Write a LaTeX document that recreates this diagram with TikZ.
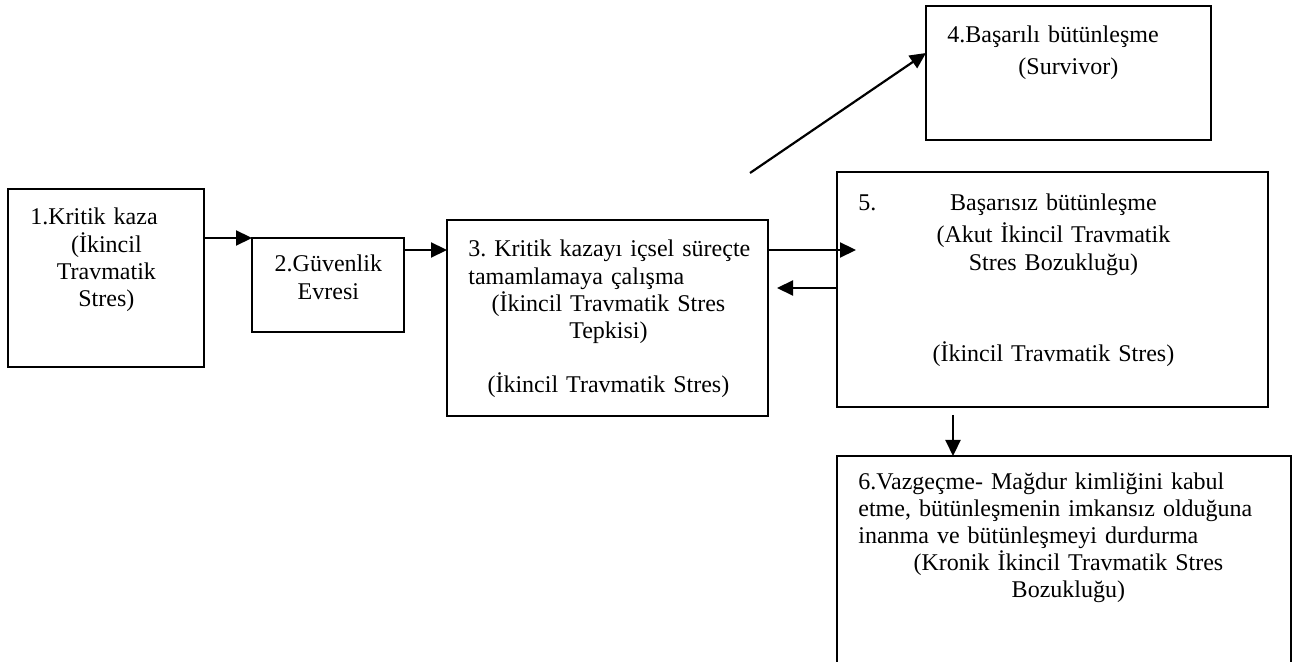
\documentclass[tikz,border=0pt]{standalone}
\usepackage{fontspec}
\setmainfont{Liberation Serif}
\usepackage{tikz}
\usetikzlibrary{positioning, arrows.meta}
\tikzstyle{kutu} = [rectangle, draw=black, line width=1pt, anchor=north west, outer sep=0pt, inner sep=0pt]
\tikzstyle{yazi} = [anchor=base west, inner sep=0pt, align=center, font={\fontsize{12}{13.6}\selectfont\frenchspacing}]
\tikzstyle{ok}   = [-{Triangle[length=8pt, width=7.5pt]}, line width=1.1pt]

\begin{document}
\begin{tikzpicture}[x=0.5pt, y=-0.5pt]
            \useasboundingbox (0,0) rectangle (1301,662);

            \node[kutu, minimum width=98pt,    minimum height=89pt]  (kaza)      at (8,189)   {};
            \node[kutu, minimum width=76pt,    minimum height=47pt]  (guven)     at (252,238) {};
            \node[kutu, minimum width=160.5pt, minimum height=98pt]  (surec)     at (447,220) {};
            \node[kutu, minimum width=142.5pt, minimum height=67pt]  (basarili)  at (926,6)   {};
            \node[kutu, minimum width=215.5pt, minimum height=117.5pt] (basarisiz) at (837,172) {};
            \node[kutu, minimum width=227pt,   minimum height=110pt] (vazgec)    at (837,456) {};

            \node[yazi, text width=76pt]  (kazayazi)  at ([shift={(22,36)}]kaza.north west)
                {\makebox[\linewidth][l]{1.Kritik kaza}\\(İkincil\\Travmatik\\Stres)};
            \node[yazi, text width=60pt]  (guvenyazi) at ([shift={(16,34)}]guven.north west)
                {2.Güvenlik\\Evresi};
            \node[yazi, text width=140pt] (surecyazi) at ([shift={(21,37)}]surec.north west)
                {\makebox[\linewidth][l]{3. Kritik kazayı içsel süreçte}\\
                 \makebox[\linewidth][l]{tamamlamaya çalışma}\\
                 (İkincil Travmatik Stres\\Tepkisi)\\[13.6pt]
                 (İkincil Travmatik Stres)};
            \node[yazi, text width=121pt] (basariliyazi) at ([shift={(21,37)}]basarili.north west)
                {\makebox[\linewidth][l]{4.Başarılı bütünleşme}\\[2.4pt](Survivor)};
            \node[yazi, text width=195pt] (basarisizyazi) at ([shift={(21,39)}]basarisiz.north west)
                {\makebox[\linewidth]{\rlap{5.}\hfill Başarısız bütünleşme\hfill}\\[2.4pt]
                 (Akut İkincil Travmatik\\Stres Bozukluğu)\\[32pt]
                 (İkincil Travmatik Stres)};
            \node[yazi, text width=210pt] (vazgecyazi) at ([shift={(21,33)}]vazgec.north west)
                {\makebox[\linewidth][l]{6.Vazgeçme- Mağdur kimliğini kabul}\\
                 \makebox[\linewidth][l]{etme, bütünleşmenin imkansız olduğuna}\\
                 \makebox[\linewidth][l]{inanma ve bütünleşmeyi durdurma}\\
                 (Kronik İkincil Travmatik Stres\\Bozukluğu)};

            \coordinate (ayrim) at (750,173);

            \draw[ok] (kaza.east |- guven.north west) -- (guven.north west);
            \draw[ok] ([yshift=-6pt]guven.north east) -- ([yshift=-6pt]guven.north east -| surec.west);
            \draw[ok] ([yshift=-15pt]surec.north east) -- ([xshift=9.5pt,yshift=-15pt]surec.north east -| basarisiz.west);
            \draw[ok] ([yshift=-34pt]surec.north east -| basarisiz.west) -- ([xshift=4.5pt,yshift=-34pt]surec.north east);
            \draw[ok] (ayrim) -- ([yshift=-23.5pt]basarili.north west);
            \draw[ok] ([xshift=58pt,yshift=-4pt]basarisiz.south west) -- ([xshift=58pt]vazgec.north west);
        \end{tikzpicture}
\end{document}
